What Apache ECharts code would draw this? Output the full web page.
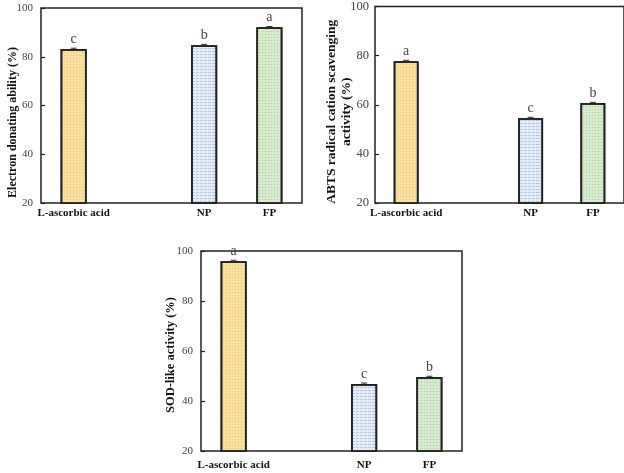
<!DOCTYPE html>
<html><head><meta charset="utf-8">
<script src="https://cdn.jsdelivr.net/npm/echarts@6/dist/echarts.min.js"></script>
<style>html,body{margin:0;padding:0;background:#fff}#c{width:624px;height:473px}</style>
</head><body><div id="c"></div>
<script>
// ---- data ----
const categories = ['L-ascorbic acid', '', 'NP', 'FP'];
const edaValues = [83.2, null, 84.7, 92.1];
const edaErrors = [0.3, null, 0.4, 0.3];
const edaLetters = ['c', '', 'b', 'a'];
const abtsValues = [77.7, null, 54.6, 60.7];
const abtsErrors = [0.4, null, 0.3, 0.3];
const abtsLetters = ['a', '', 'c', 'b'];
const sodValues = [95.9, null, 46.8, 49.6];
const sodErrors = [0.4, null, 0.4, 0.3];
const sodLetters = ['a', '', 'c', 'b'];
const yMin = 20, yMax = 100, yStep = 20;

// ---- styles ----
const SERIF = 'Liberation Serif';
const fills = ['#fbe1a0', null, '#e4edf8', '#d8ecd0'];
const decals = [
  {symbol: 'circle', symbolSize: 0.5, color: 'rgba(205,160,70,0.35)', dashArrayX: [3, 0], dashArrayY: [3, 0]},
  null,
  {symbol: 'rect', symbolSize: 1, color: 'rgba(110,150,205,0.45)', dashArrayX: [[3, 1]], dashArrayY: [1, 2]},
  {symbol: 'circle', symbolSize: 0.55, color: 'rgba(110,165,95,0.35)', dashArrayX: [3, 0], dashArrayY: [3, 0]}
];

const chart = echarts.init(document.getElementById('c'));

const grids = [
  {left: 41, top: 8, width: 261, height: 195},
  {left: 375, top: 6, width: 250, height: 197},
  {left: 201, top: 251, width: 261, height: 200}
].map(g => Object.assign(g, {show: true, borderColor: '#222', borderWidth: 1.5, backgroundColor: 'transparent', containLabel: false}));

const yNames = ['Electron donating ability (%)', 'ABTS radical cation scavenging\nactivity (%)', 'SOD-like activity (%)'];
const yNameSizes = [12, 13.5, 12.5];
const yNameLH = [13, 15, 14];
const yNameGaps = [21.5, 20.5, 23];
const yNamePads = [[0, 34, 0, 0], [0, 14, 0, 0], [0, 8, 0, 0]];
const yLabelSizes = [11, 12.5, 11];
const yLabelMargins = [8, 6, 8];
const xMargins = [5, 5, 9];
const letterSizes = [14, 14, 14];

const xAxes = [0, 1, 2].map(i => ({
  type: 'category', gridIndex: i, data: categories,
  axisLine: {show: false}, axisTick: {show: false},
  axisLabel: {interval: 0, margin: xMargins[i], fontFamily: SERIF, fontWeight: 'bold', fontSize: 11, color: '#111'}
}));
const yAxes = [0, 1, 2].map(i => ({
  type: 'value', gridIndex: i, min: yMin, max: yMax, interval: yStep,
  name: yNames[i], nameLocation: 'middle', nameGap: yNameGaps[i], nameMoveOverlap: false,
  nameTextStyle: {fontFamily: SERIF, fontWeight: 'bold', fontSize: yNameSizes[i], color: '#111', lineHeight: yNameLH[i], padding: yNamePads[i]},
  axisLine: {show: false}, splitLine: {show: false},
  axisTick: {show: true, inside: true, length: 4, lineStyle: {color: '#222', width: 1.2}},
  axisLabel: {margin: yLabelMargins[i], fontFamily: SERIF, fontSize: yLabelSizes[i], color: '#444'}
}));

function barSeries(i, values, letters) {
  return {
    type: 'bar', xAxisIndex: i, yAxisIndex: i, barWidth: '40%',
    data: values.map((v, k) => v == null ? null : {
      value: v,
      itemStyle: {color: fills[k], decal: decals[k], borderColor: '#222', borderWidth: 1.7}
    }),
    label: {show: true, position: 'top', distance: 3, formatter: p => letters[p.dataIndex],
      fontFamily: SERIF, fontSize: letterSizes[i], color: '#444'}
  };
}
function errSeries(i, values, errors) {
  return {
    type: 'custom', xAxisIndex: i, yAxisIndex: i, z: 5,
    data: values.map((v, k) => v == null ? null : [k, v, errors[k]]).filter(d => d),
    renderItem: (params, api) => {
      const x = api.value(0), v = api.value(1), e = api.value(2);
      const t = api.coord([x, v + e]), b = api.coord([x, v]);
      return {type: 'group', children: [
        {type: 'line', shape: {x1: t[0], y1: t[1], x2: b[0], y2: b[1]}, style: {stroke: '#333', lineWidth: 1}},
        {type: 'line', shape: {x1: t[0] - 3, y1: t[1], x2: t[0] + 3, y2: t[1]}, style: {stroke: '#333', lineWidth: 1}}
      ]};
    }
  };
}

chart.setOption({
  animation: false,
  grid: grids, xAxis: xAxes, yAxis: yAxes,
  series: [
    barSeries(0, edaValues, edaLetters), errSeries(0, edaValues, edaErrors),
    barSeries(1, abtsValues, abtsLetters), errSeries(1, abtsValues, abtsErrors),
    barSeries(2, sodValues, sodLetters), errSeries(2, sodValues, sodErrors)
  ]
});
</script></body></html>
